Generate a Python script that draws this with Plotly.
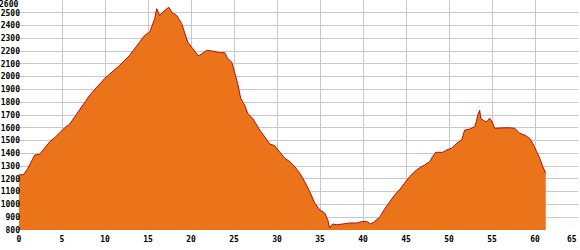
import plotly.graph_objects as go

dist_km = [0, 0.55, 1.01, 1.83, 2.41, 2.99, 3.57, 4.15, 4.73, 5.31, 5.90, 7.06, 8.22, 9.97, 11.71, 12.87,
           14.03, 14.62, 15.20, 15.55, 15.78, 16.01, 16.36, 16.71, 17.17, 17.41, 17.76, 18.34, 18.92, 19.27,
           19.62, 20.20, 20.78, 21.01, 21.36, 21.83, 22.41, 22.99, 23.34, 23.92, 24.27, 24.73, 25.08, 25.43,
           25.78, 26.24, 26.59, 27.17, 27.52, 27.99, 28.57, 29.15, 29.73, 30.31, 30.89, 31.48, 32.06, 32.64,
           33.22, 33.80, 34.38, 34.96, 35.55, 35.90, 36.13, 36.48, 36.94, 37.64, 38.45, 39.27, 39.97, 40.43,
           40.90, 41.36, 41.94, 42.52, 43.10, 43.69, 44.27, 44.85, 45.43, 46.01, 46.59, 47.17, 47.76, 48.10,
           48.45, 49.27, 49.73, 50.31, 50.89, 51.48, 51.82, 52.41, 52.99, 53.22, 53.34, 53.57, 53.69, 54.04,
           54.38, 54.73, 54.96, 55.31, 55.89, 56.48, 57.06, 57.41, 57.64, 58.22, 58.80, 59.38, 59.73, 60.20,
           60.55, 60.90, 61.14, 61.25]
elev_m = [1231, 1235, 1280, 1387, 1393, 1444, 1491, 1522, 1564, 1600, 1629, 1738, 1855, 1986, 2089, 2167,
          2271, 2323, 2349, 2415, 2454, 2532, 2479, 2505, 2532, 2544, 2505, 2479, 2415, 2336,
          2271, 2220, 2167, 2167, 2181, 2206, 2201, 2193, 2188, 2188, 2142, 2115, 2037, 1947,
          1830, 1777, 1713, 1674, 1635, 1582, 1530, 1473, 1460, 1413, 1362, 1335, 1296, 1245,
          1179, 1101, 1011, 958, 933, 880, 816, 847, 841, 847, 855, 855, 867, 867,
          847, 867, 900, 965, 1023, 1075, 1117, 1167, 1218, 1257, 1288, 1309, 1335, 1374,
          1408, 1408, 1426, 1440, 1479, 1504, 1582, 1590, 1608, 1660, 1699, 1738, 1674, 1655,
          1647, 1674, 1655, 1596, 1600, 1600, 1600, 1600, 1596, 1557, 1543, 1517, 1479, 1413,
          1362, 1296, 1257, 1245]

x_ticks = list(range(0, 61, 5))
x_last = 65
y_ticks = list(range(800, 2501, 100))
y_last = 2600

tick_font = dict(family="DejaVu Sans Mono", size=8, color="#000000", weight="bold")

fig = go.Figure()
fig.add_trace(go.Scatter(
    x=dist_km, y=elev_m, mode="lines", fill="tozeroy",
    fillcolor="#EB741A", line=dict(color="#B01010", width=1),
    hoverinfo="skip", showlegend=False,
))
fig.update_layout(
    width=580, height=250,
    margin=dict(l=19, r=2, t=0, b=20),
    paper_bgcolor="#ffffff", plot_bgcolor="#ffffff",
    xaxis=dict(range=[0, x_last], tickvals=x_ticks + [x_last], ticktext=[str(v) for v in x_ticks] + [""],
               showgrid=True, gridcolor="#c8c8c8", gridwidth=1, zeroline=False, automargin=False,
               showline=False, ticks="", ticklabelstandoff=3, tickfont=tick_font),
    yaxis=dict(range=[800, y_last], tickvals=y_ticks + [y_last], ticktext=[str(v) for v in y_ticks] + [""],
               showgrid=True, gridcolor="#c8c8c8", gridwidth=1, zeroline=False, automargin=False,
               showline=False, ticks="", ticklabelstandoff=-2, tickfont=tick_font),
    annotations=[
        dict(text=str(y_last), xref="paper", yref="y", x=0, y=y_last, xanchor="right", yanchor="top",
             showarrow=False, font=tick_font, borderpad=0, xshift=0, yshift=1),
        dict(text=str(x_last), xref="x", yref="paper", x=x_last, y=0, xanchor="right", yanchor="top",
             showarrow=False, font=tick_font, borderpad=0, xshift=0, yshift=-4),
    ],
)
fig.write_html("out.html")
